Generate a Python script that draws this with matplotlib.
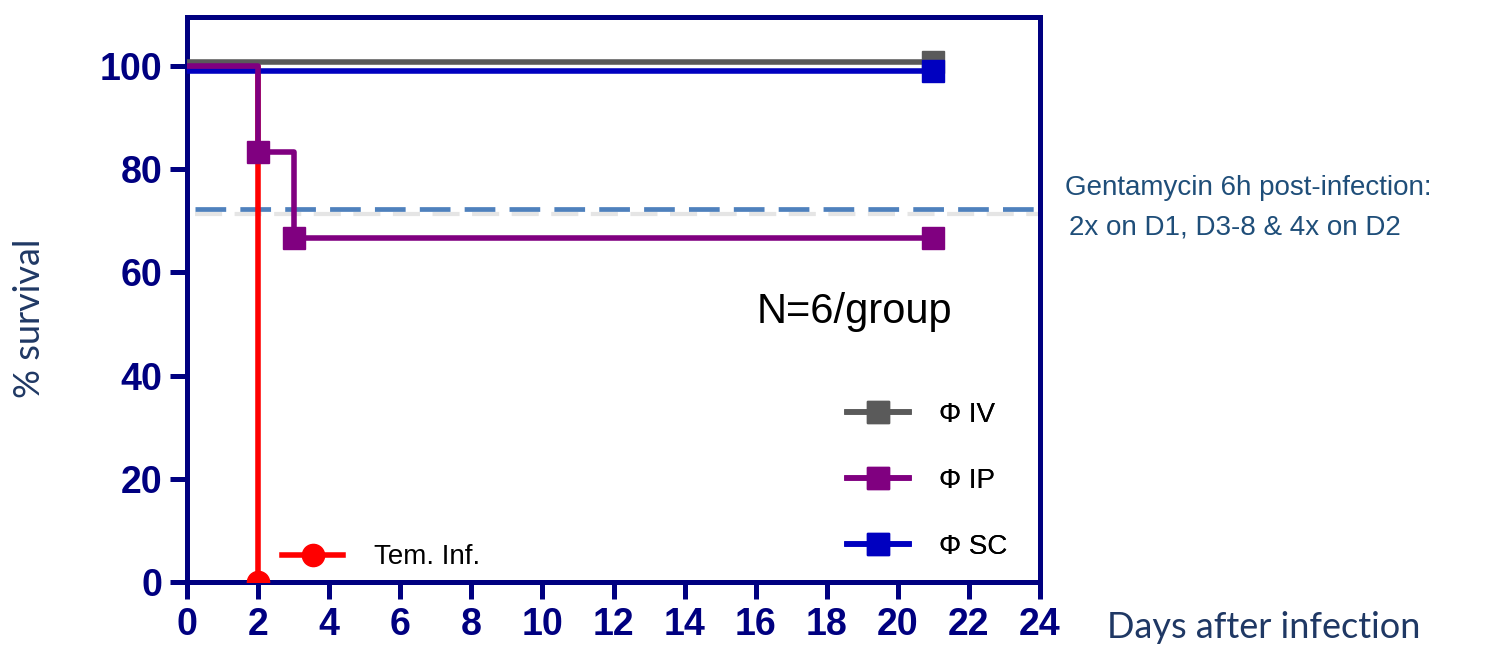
import matplotlib
matplotlib.use("Agg")
import matplotlib.pyplot as plt
from matplotlib.legend import Legend

plt.rcParams['font.family'] = ['Liberation Sans', 'DejaVu Sans']

# survival curves (days, % survival) as drawn
iv_days = [0, 21]
iv_surv = [100.8, 100.8]
sc_days = [0, 21]
sc_surv = [99.0, 99.0]
ip_days = [0, 2, 3, 21]
ip_surv = [100, 83.3, 66.7, 66.7]
ip_marks = [1, 2, 3]
tem_days = [0, 2]
tem_surv = [100, 0]

treatment_level = 72.3
x_ticks = list(range(0, 25, 2))
y_ticks = [0, 20, 40, 60, 80, 100]

navy = "#000080"
fig = plt.figure(figsize=(14.93, 6.46), dpi=100)
ax = fig.add_axes([0.1253, 0.0991, 0.5713, 0.8746])

# dashed treatment line with soft shadow
ax.axhline(treatment_level - 1.0, xmin=0.009, xmax=1, color="#d4d4d4", lw=3.0,
           dashes=(6.5, 3), zorder=1, alpha=0.6)
ax.axhline(treatment_level, xmin=0.009, xmax=1, color="#4f81bd", lw=3.4,
           dashes=(6.5, 3), zorder=2)

lw = 4.0
ms = 16
tem, = ax.step(tem_days, tem_surv, where="post", color="#ff0000", lw=lw, zorder=3,
               marker="o", markersize=ms, markevery=[1], label="Tem. Inf.")
ip, = ax.step(ip_days, ip_surv, where="post", color="#800080", lw=lw, zorder=4,
              marker="s", markersize=ms, markevery=ip_marks, label="\u03a6 IP")
sc, = ax.step(sc_days, sc_surv, where="post", color="#0000c0", lw=lw, zorder=3.5,
              marker="s", markersize=ms, markevery=[1], label="\u03a6 SC")
iv, = ax.step(iv_days, iv_surv, where="post", color="#5a5a5a", lw=lw, zorder=3.4,
              marker="s", markersize=ms, markevery=[1], label="\u03a6 IV")

ax.set_xlim(0, 24)
ax.set_ylim(0, 109.5)
ax.set_xticks(x_ticks)
ax.set_yticks(y_ticks)
for s in ax.spines.values():
    s.set_linewidth(3.6)
    s.set_color(navy)
ax.tick_params(axis="both", direction="out", length=12, width=3.6, color=navy,
               labelcolor=navy, labelsize=27, pad=6)
for lab in ax.get_xticklabels() + ax.get_yticklabels():
    lab.set_fontweight("bold")

# legend handles: one marker in the middle of each line
leg = ax.legend([iv, ip, sc], ["\u03a6 IV", "\u03a6 IP", "\u03a6 SC"], loc="lower left",
                bbox_to_anchor=(0.758, 0.014), frameon=False, fontsize=20, numpoints=1,
                handlelength=2.2, handletextpad=1.1, labelspacing=1.45, borderpad=0)
for h in leg.legend_handles:
    h.set_markevery([1])
ax.add_artist(leg)
leg2 = Legend(ax, [tem], ["Tem. Inf."], loc="lower left", bbox_to_anchor=(0.095, -0.004),
              frameon=False, fontsize=20, numpoints=1, handlelength=2.2,
              handletextpad=1.1, borderpad=0)
for h in leg2.legend_handles:
    h.set_markevery([1])
ax.add_artist(leg2)

ax.text(0.668, 0.478, "N=6/group", transform=ax.transAxes, fontsize=30, color="black",
        va="center", ha="left")

fig.text(1065 / 1493, 1 - 188 / 646, "Gentamycin 6h post-infection:", fontsize=20,
         color="#1f4e79", va="center", ha="left")
fig.text(1069 / 1493, 1 - 227 / 646, "2x on D1, D3-8 & 4x on D2", fontsize=20,
         color="#1f4e79", va="center", ha="left")
fig.text(1107 / 1493, 1 - 628 / 646, "Days after infection", fontsize=26,
         color="#1f3864", va="center", ha="left", family="Lato")
fig.text(30 / 1493, 1 - 318 / 646, "% survival", fontsize=26, rotation=90,
         color="#1f3864", va="center", ha="center", family="Lato")

fig.savefig("out.png", dpi=100)
